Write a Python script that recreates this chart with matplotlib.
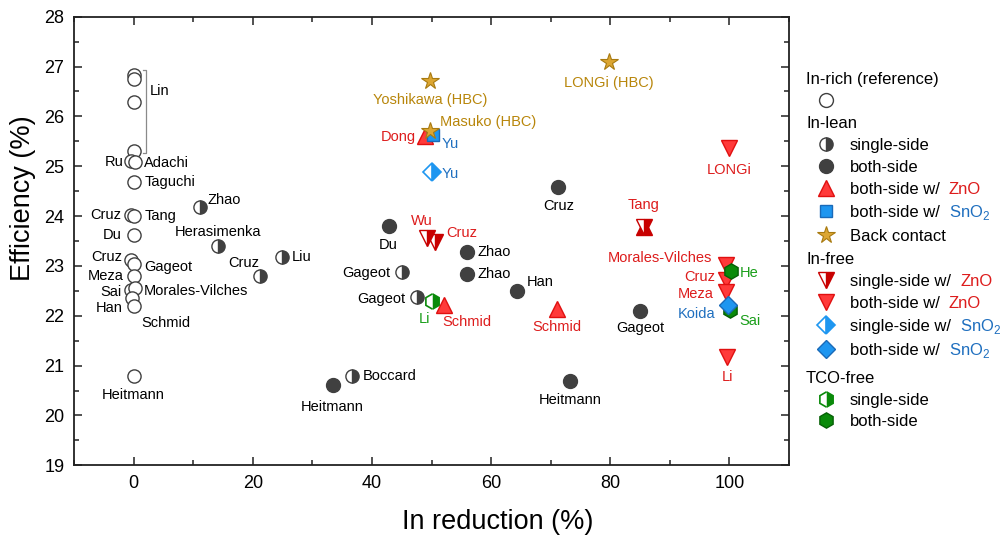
import matplotlib
matplotlib.use("Agg")
import matplotlib.pyplot as plt
from matplotlib.lines import Line2D
from matplotlib.ticker import MultipleLocator

plt.rcParams['font.family'] = ['Liberation Sans', 'DejaVu Sans']
plt.rcParams['mathtext.fontset'] = 'custom'
plt.rcParams['mathtext.rm'] = 'Liberation Sans'

# ---------------- data: (In reduction %, efficiency %) ----------------
# In-rich (reference)
rich_names = ["Lin", "Lin", "Lin", "Lin", "Ru", "Adachi", "Taguchi", "Cruz", "Tang", "Du",
              "Cruz", "Gageot", "Meza", "Sai", "Morales-Vilches", "Han", "Schmid", "Heitmann"]
rich_x = [0, 0, 0, 0, -0.4, 0.2, 0.1, -0.4, 0.1, 0,
          -0.4, 0.1, 0, -0.4, 0.3, -0.2, 0.1, 0]
rich_y = [26.83, 26.75, 26.29, 25.30, 25.10, 25.08, 24.68, 24.02, 24.00, 23.62,
          23.12, 23.04, 22.80, 22.52, 22.55, 22.35, 22.20, 20.80]

# In-lean, single-side
lean1_names = ["Zhao", "Herasimenka", "Cruz", "Liu", "Boccard", "Gageot", "Gageot"]
lean1_x = [11.1, 14.2, 21.3, 24.9, 36.7, 45.0, 47.5]
lean1_y = [24.18, 23.40, 22.80, 23.18, 20.80, 22.88, 22.38]

# In-lean, both-side
lean2_names = ["Heitmann", "Du", "Zhao", "Zhao", "Han", "Cruz", "Heitmann", "Gageot"]
lean2_x = [33.4, 42.8, 56.0, 56.0, 64.3, 71.3, 73.2, 85.0]
lean2_y = [20.61, 23.80, 23.27, 22.84, 22.50, 24.59, 20.69, 22.10]

# In-lean, both-side w/ ZnO
lean_zno_names = ["Dong", "Schmid", "Schmid"]
lean_zno_x = [48.9, 52.1, 71.0]
lean_zno_y = [25.60, 22.22, 22.14]

# In-lean, both-side w/ SnO2
lean_sno_names = ["Yu"]
lean_sno_x = [50.3]
lean_sno_y = [25.62]

# Back contact
bc_names = ["Yoshikawa (HBC)", "Masuko (HBC)", "LONGi (HBC)"]
bc_x = [49.8, 49.7, 79.8]
bc_y = [26.70, 25.71, 27.09]

# In-free, single-side w/ ZnO
free1_zno_names = ["Cruz", "Wu", "Tang"]
free1_zno_x = [50.6, 49.2, 85.6]
free1_zno_y = [23.48, 23.56, 23.79]

# In-free, both-side w/ ZnO
free2_zno_names = ["LONGi", "Morales-Vilches", "Cruz", "Meza", "Li"]
free2_zno_x = [100.0, 99.4, 99.4, 99.4, 99.6]
free2_zno_y = [25.36, 23.02, 22.72, 22.48, 21.18]

# In-free, single-side w/ SnO2
free1_sno_names = ["Yu"]
free1_sno_x = [50.0]
free1_sno_y = [24.89]

# In-free, both-side w/ SnO2
free2_sno_names = ["Koida"]
free2_sno_x = [99.8]
free2_sno_y = [22.22]

# TCO-free
tco1_names = ["Li"]
tco1_x = [50.0]
tco1_y = [22.30]
tco2_names = ["He", "Sai"]
tco2_x = [100.2, 100.1]
tco2_y = [22.90, 22.11]

# ---------------- colours ----------------
GREY = '#404040'
RED = '#ff3a3a'
RED_EDGE = '#e01010'
DARKRED = '#c80000'
BLUE = '#1e96f0'
BLUE_EDGE = '#1a6ab8'
GOLD = '#dca632'
GOLD_EDGE = '#a87a10'
GREEN = '#0a8a0a'
GREEN_EDGE = '#056005'
T_RED = '#dd1c1c'
T_BLUE = '#1f6fbf'
T_GOLD = '#b8860b'
T_GREEN = '#1a9e1a'

PX = 72 / 100.0  # points per pixel

STYLE = {
    'rich': dict(marker='o', ms=9.5, mfc='white', mec=GREY, mew=1.0),
    'lean1': dict(marker='o', ms=9.5, mfc=GREY, mec=GREY, mew=1.0, fillstyle='right',
                  markerfacecoloralt='white'),
    'lean2': dict(marker='o', ms=10, mfc=GREY, mec=GREY, mew=1.0),
    'lean_zno': dict(marker='^', ms=11, mfc=RED, mec=RED_EDGE, mew=1.0),
    'lean_sno': dict(marker='s', ms=9, mfc=BLUE, mec=BLUE_EDGE, mew=1.0),
    'bc': dict(marker='*', ms=13, mfc=GOLD, mec=GOLD_EDGE, mew=0.8),
    'free1_zno': dict(marker='v', ms=11.5, mfc=DARKRED, mec=DARKRED, mew=1.0, fillstyle='right',
                      markerfacecoloralt='white'),
    'free2_zno': dict(marker='v', ms=11.5, mfc=RED, mec=RED_EDGE, mew=1.0),
    'free1_sno': dict(marker='D', ms=9.5, mfc=BLUE, mec=BLUE, mew=1.2, fillstyle='right',
                      markerfacecoloralt='white'),
    'free2_sno': dict(marker='D', ms=9.5, mfc=BLUE, mec=BLUE_EDGE, mew=1.0),
    'tco1': dict(marker='h', ms=11, mfc=GREEN, mec=GREEN, mew=1.2, fillstyle='right',
                 markerfacecoloralt='white'),
    'tco2': dict(marker='h', ms=11, mfc=GREEN, mec=GREEN_EDGE, mew=1.0),
}

# label placement: (dx px, dy px downward, ha)
L = (-10, 0, 'right')
R = (10, 0, 'left')
B = (0, 19, 'center')

rich_place = [None, None, None, None, (-8, 1, 'right'), (9, 1, 'left'), R, L, R, (-12, 0, 'right'),
              (-9, -3, 'right'), (10, 3, 'left'), L, (-10, 2, 'right'), (8, 3, 'left'),
              (-10, 10, 'right'), (7, 17, 'left'), B]
lean1_place = [(8, -7, 'left'), (0, -14, 'center'), (-1, -13, 'right'), R, R,
               (-11, 1, 'right'), (-11, 2, 'right')]
lean2_place = [(0, 22, 'center'), B, R, R, (10, -9, 'left'), B, B, (0, 17, 'center')]
lean_zno_place = [(-9, 1, 'right'), (-2, 17, 'left'), (0, 18, 'center')]
lean_sno_place = [(8, 9, 'left')]
bc_place = [(0, 18.5, 'center'), (10, -9, 'left'), (0, 21, 'center')]
free1_zno_place = [(11, -9, 'left'), (-5, -17, 'center'), (0, -22, 'center')]
free2_zno_place = [(0, 22, 'center'), (-14, -7, 'right'), (-11, -3, 'right'), (-12, 2, 'right'),
                   (0, 20, 'center')]
free1_sno_place = [(10, 2, 'left')]
free2_sno_place = [(-13, 9, 'right')]
tco1_place = [(-7, 18, 'center')]
tco2_place = [(9, 2, 'left'), (9, 11, 'left')]

fig = plt.figure(figsize=(10.05, 5.36), dpi=100)
ax = fig.add_axes([74 / 1005, 1 - 465.3 / 536, (789 - 74) / 1005, (465.3 - 16.7) / 536])


def series(xs, ys, style, z, **extra):
    for x, y in zip(xs, ys):
        ax.plot([x], [y], linestyle='none', zorder=z, **{**STYLE[style], **extra})


def tags(xs, ys, names, places, color):
    for x, y, n, p in zip(xs, ys, names, places):
        if p is None:
            continue
        dx, dy, ha = p
        ax.annotate(n, (x, y), xytext=(dx * PX, -dy * PX), textcoords='offset points',
                    ha=ha, va='center', fontsize=10.5, color=color, zorder=20)


series(rich_x, rich_y, 'rich', 3)
series(lean1_x, lean1_y, 'lean1', 3)
series(lean2_x, lean2_y, 'lean2', 3)
series(tco1_x, tco1_y, 'tco1', 4)
series(lean_zno_x, lean_zno_y, 'lean_zno', 5)

# Tang's cell is drawn as a six-pointed mark: a solid upward triangle under the half-filled one
tang = free1_zno_names.index("Tang")
ax.plot([free1_zno_x[tang]], [free1_zno_y[tang]], linestyle='none', zorder=4.9,
        marker='^', ms=11.5, mfc=DARKRED, mec=DARKRED, mew=1.0)

series(free1_zno_x, free1_zno_y, 'free1_zno', 5)
series(free2_zno_x, free2_zno_y, 'free2_zno', 5)
series(tco2_x, tco2_y, 'tco2', 6)
series(free1_sno_x, free1_sno_y, 'free1_sno', 7)
series(free2_sno_x, free2_sno_y, 'free2_sno', 7)
series(lean_sno_x, lean_sno_y, 'lean_sno', 7)
series(bc_x, bc_y, 'bc', 8)

tags(rich_x, rich_y, rich_names, rich_place, 'black')
tags(lean1_x, lean1_y, lean1_names, lean1_place, 'black')
tags(lean2_x, lean2_y, lean2_names, lean2_place, 'black')
tags(lean_zno_x, lean_zno_y, lean_zno_names, lean_zno_place, T_RED)
tags(lean_sno_x, lean_sno_y, lean_sno_names, lean_sno_place, T_BLUE)
tags(bc_x, bc_y, bc_names, bc_place, T_GOLD)
tags(free1_zno_x, free1_zno_y, free1_zno_names, free1_zno_place, T_RED)
tags(free2_zno_x, free2_zno_y, free2_zno_names, free2_zno_place, T_RED)
tags(free1_sno_x, free1_sno_y, free1_sno_names, free1_sno_place, T_BLUE)
tags(free2_sno_x, free2_sno_y, free2_sno_names, free2_sno_place, T_BLUE)
tags(tco1_x, tco1_y, tco1_names, tco1_place, T_GREEN)
tags(tco2_x, tco2_y, tco2_names, tco2_place, T_GREEN)

# bracket grouping the Lin cells
lin_y = [y for n, y in zip(rich_names, rich_y) if n == "Lin"]
top, bot = max(lin_y) + 0.1, min(lin_y) - 0.03
bx = 2.0
ax.plot([bx - 0.5, bx, bx, bx - 0.5], [top, top, bot, bot], color='#8a8a8a', lw=0.9, zorder=2)
ax.annotate("Lin", (bx, top), xytext=(4 * PX, -21 * PX), textcoords='offset points',
            ha='left', va='center', fontsize=10.5, color='black')

# axes styling
ax.set_xlim(-10, 110)
ax.set_ylim(19, 28)
ax.xaxis.set_major_locator(MultipleLocator(20))
ax.xaxis.set_minor_locator(MultipleLocator(10))
ax.yaxis.set_major_locator(MultipleLocator(1))
ax.yaxis.set_minor_locator(MultipleLocator(0.5))
ax.tick_params(which='both', direction='in', top=True, right=True, width=1.1, colors='#222222',
               labelcolor='black')
ax.tick_params(which='major', length=6, labelsize=13, pad=7)
ax.tick_params(which='minor', length=3.5)
for s in ax.spines.values():
    s.set_linewidth(1.3)
    s.set_color('#222222')
ax.set_xlabel("In reduction (%)", fontsize=19.5)
ax.set_ylabel("Efficiency (%)", fontsize=19.5)
ax.xaxis.set_label_coords(0.593, -0.097)
ax.yaxis.set_label_coords(-0.053, 0.595)

# ---------------- legend ----------------
W, H = 1005.0, 536.0
renderer = fig.canvas.get_renderer()


def fxy(x, y):
    return x / W, 1 - y / H


def lg_text(x, y, s, color='black'):
    # y is the row centre; text sits on a baseline 6 px below it
    return fig.text(*fxy(x, y + 6), s, fontsize=12, color=color, ha='left', va='baseline')


def lg_mark(x, y, style, **extra):
    kw = {**STYLE[style], **extra}
    fx, fy = fxy(x, y)
    fig.add_artist(Line2D([fx], [fy], transform=fig.transFigure, linestyle='none', **kw))


def lg_item(y, style, txt, tail=None, tail_color=None, **extra):
    lg_mark(826, y, style, **extra)
    t = lg_text(850, y, txt)
    if tail:
        bb = t.get_window_extent(renderer)
        lg_text(bb.x1 + 9, y, tail, color=tail_color)


SNO2 = r"SnO$_\mathregular{2}$"
lg_text(806, 78, "In-rich (reference)")
lg_mark(826, 100, 'rich', ms=10)
lg_text(806, 122, "In-lean")
lg_item(144, 'lean1', "single-side")
lg_item(166, 'lean2', "both-side")
lg_item(188, 'lean_zno', "both-side w/", "ZnO", T_RED)
lg_item(211, 'lean_sno', "both-side w/", SNO2, T_BLUE)
lg_item(235, 'bc', "Back contact")
lg_text(806, 258, "In-free")
lg_item(280, 'free1_zno', "single-side w/", "ZnO", T_RED)
lg_item(302, 'free2_zno', "both-side w/", "ZnO", T_RED)
lg_item(325, 'free1_sno', "single-side w/", SNO2, T_BLUE)
lg_item(349, 'free2_sno', "both-side w/", SNO2, T_BLUE)
lg_text(806, 377, "TCO-free")
lg_item(399, 'tco1', "single-side")
lg_item(420, 'tco2', "both-side")

fig.savefig("out.png", dpi=100)
